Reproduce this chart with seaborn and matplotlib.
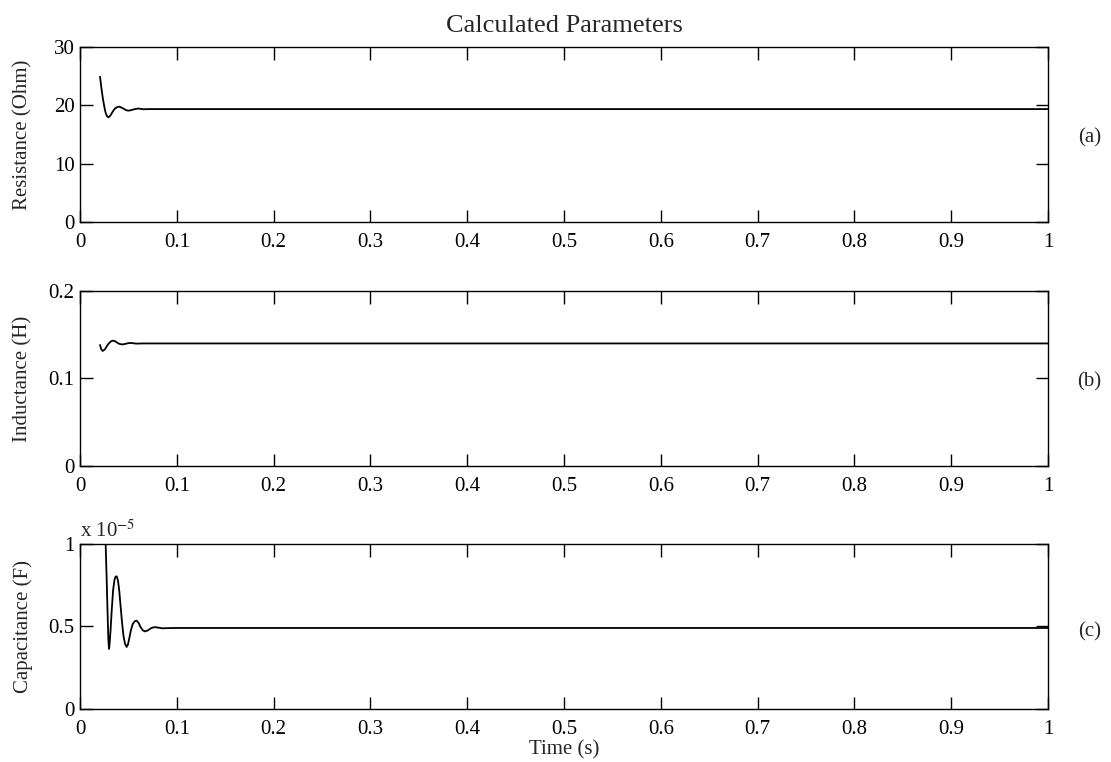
import matplotlib
matplotlib.use("Agg")
import matplotlib.pyplot as plt
import seaborn as sns
import numpy as np
import pandas as pd

# Resistance (Ohm)
t_res = [0.0207, 0.0215, 0.0224, 0.0236, 0.0248, 0.0259, 0.0269, 0.0281, 0.0293, 0.0308,
         0.0327, 0.0345, 0.0362, 0.0385, 0.0406, 0.043, 0.0455, 0.0478, 0.0499, 0.0525,
         0.055, 0.060, 0.0654, 0.072, 1.0]
res = [24.9, 23.8, 22.6, 21.2, 20.06, 19.1, 18.5, 18.1, 17.95, 18.1,
       18.6, 19.1, 19.45, 19.7, 19.77, 19.6, 19.37, 19.15, 19.08, 19.15,
       19.28, 19.45, 19.32, 19.35, 19.35]

# Inductance (H)
t_ind = [0.0207, 0.022, 0.0234, 0.0258, 0.0275, 0.0293, 0.0315, 0.0337, 0.0358, 0.0379,
         0.0400, 0.0424, 0.0445, 0.0465, 0.0490, 0.0517, 0.0585, 0.065, 1.0]
ind = [0.1383, 0.1333, 0.1314, 0.1333, 0.1365, 0.1394, 0.1420, 0.1432, 0.1428, 0.1413,
       0.1398, 0.1390, 0.1390, 0.1394, 0.1401, 0.1406, 0.1398, 0.1400, 0.1400]

# Capacitance (x 1e-5 F)
t_cap = [0.025, 0.0265, 0.0275, 0.0285, 0.0293, 0.0300, 0.0305, 0.0315, 0.0328, 0.0342,
         0.0357, 0.0368, 0.0379, 0.0392, 0.0405, 0.0420, 0.0435, 0.0450, 0.0465, 0.0482,
         0.0495, 0.0510, 0.0525, 0.0545, 0.0565, 0.0586, 0.0605, 0.0625, 0.0650, 0.0672,
         0.0700, 0.0730, 0.0755, 0.0775, 0.0810, 0.0850, 0.0900, 0.1000, 1.0]
cap = [1.6, 1.0, 0.80, 0.58, 0.42, 0.364, 0.39, 0.47, 0.60, 0.72,
       0.785, 0.802, 0.804, 0.78, 0.72, 0.62, 0.52, 0.44, 0.395, 0.376,
       0.39, 0.43, 0.475, 0.515, 0.532, 0.535, 0.522, 0.497, 0.476, 0.470,
       0.476, 0.488, 0.494, 0.496, 0.493, 0.489, 0.490, 0.491, 0.491]

sns.set_style("ticks")
plt.rcParams['font.family'] = ['Liberation Serif', 'DejaVu Serif']
plt.rcParams['mathtext.fontset'] = 'stix'
plt.rcParams['axes.linewidth'] = 1.0

fig = plt.figure(figsize=(11.11, 7.62), dpi=100)
ax1 = fig.add_axes([0.0720, 0.7087, 0.8713, 0.2297])
ax2 = fig.add_axes([0.0720, 0.3885, 0.8713, 0.2297])
ax3 = fig.add_axes([0.0720, 0.0696, 0.8713, 0.2165])

xticks = np.round(np.arange(0, 1.01, 0.1), 1)
xlabels = ['0'] + [f'{v:g}' for v in xticks[1:-1]] + ['1']

panels = [
    (ax1, t_res, res, 'Resistance (Ohm)', (0, 30), [0, 10, 20, 30], ['0', '10', '20', '30'], '(a)', 0.48),
    (ax2, t_ind, ind, 'Inductance (H)', (0, 0.2), [0, 0.1, 0.2], ['0', '0.1', '0.2'], '(b)', 0.48),
    (ax3, t_cap, cap, 'Capacitance (F)', (0, 1), [0, 0.5, 1], ['0', '0.5', '1'], '(c)', 0.47),
]

for ax, t, v, lab, ylim, yt, ytl, tag, ty in panels:
    df = pd.DataFrame({'t': t, 'v': v})
    sns.lineplot(data=df, x='t', y='v', ax=ax, color='black', linewidth=1.3)
    ax.set_xlim(0, 1)
    ax.set_ylim(*ylim)
    ax.set_xticks(xticks)
    ax.set_xticklabels(xlabels)
    ax.set_yticks(yt)
    ax.set_yticklabels(ytl)
    ax.tick_params(direction='in', top=True, right=True, length=9, width=1.0,
                   labelsize=15, colors='black')
    ax.tick_params(axis='x', pad=8)
    ax.tick_params(axis='y', pad=4)
    ax.set_ylabel(lab, fontsize=15)
    ax.yaxis.set_label_coords(-0.049, 0.5)
    ax.set_xlabel('')
    for s in ax.spines.values():
        s.set_visible(True)
        s.set_color('black')
    ax.text(1.043, ty, tag, transform=ax.transAxes, ha='center', va='center', fontsize=15)

ax1.set_title('Calculated Parameters', fontsize=19, pad=11)
ax3.set_xlabel('Time (s)', fontsize=15, labelpad=1)
ax3.text(0.0, 1.01, r'x 10$^{-5}$', transform=ax3.transAxes, ha='left', va='bottom', fontsize=15)

fig.savefig('out.png', dpi=100)
